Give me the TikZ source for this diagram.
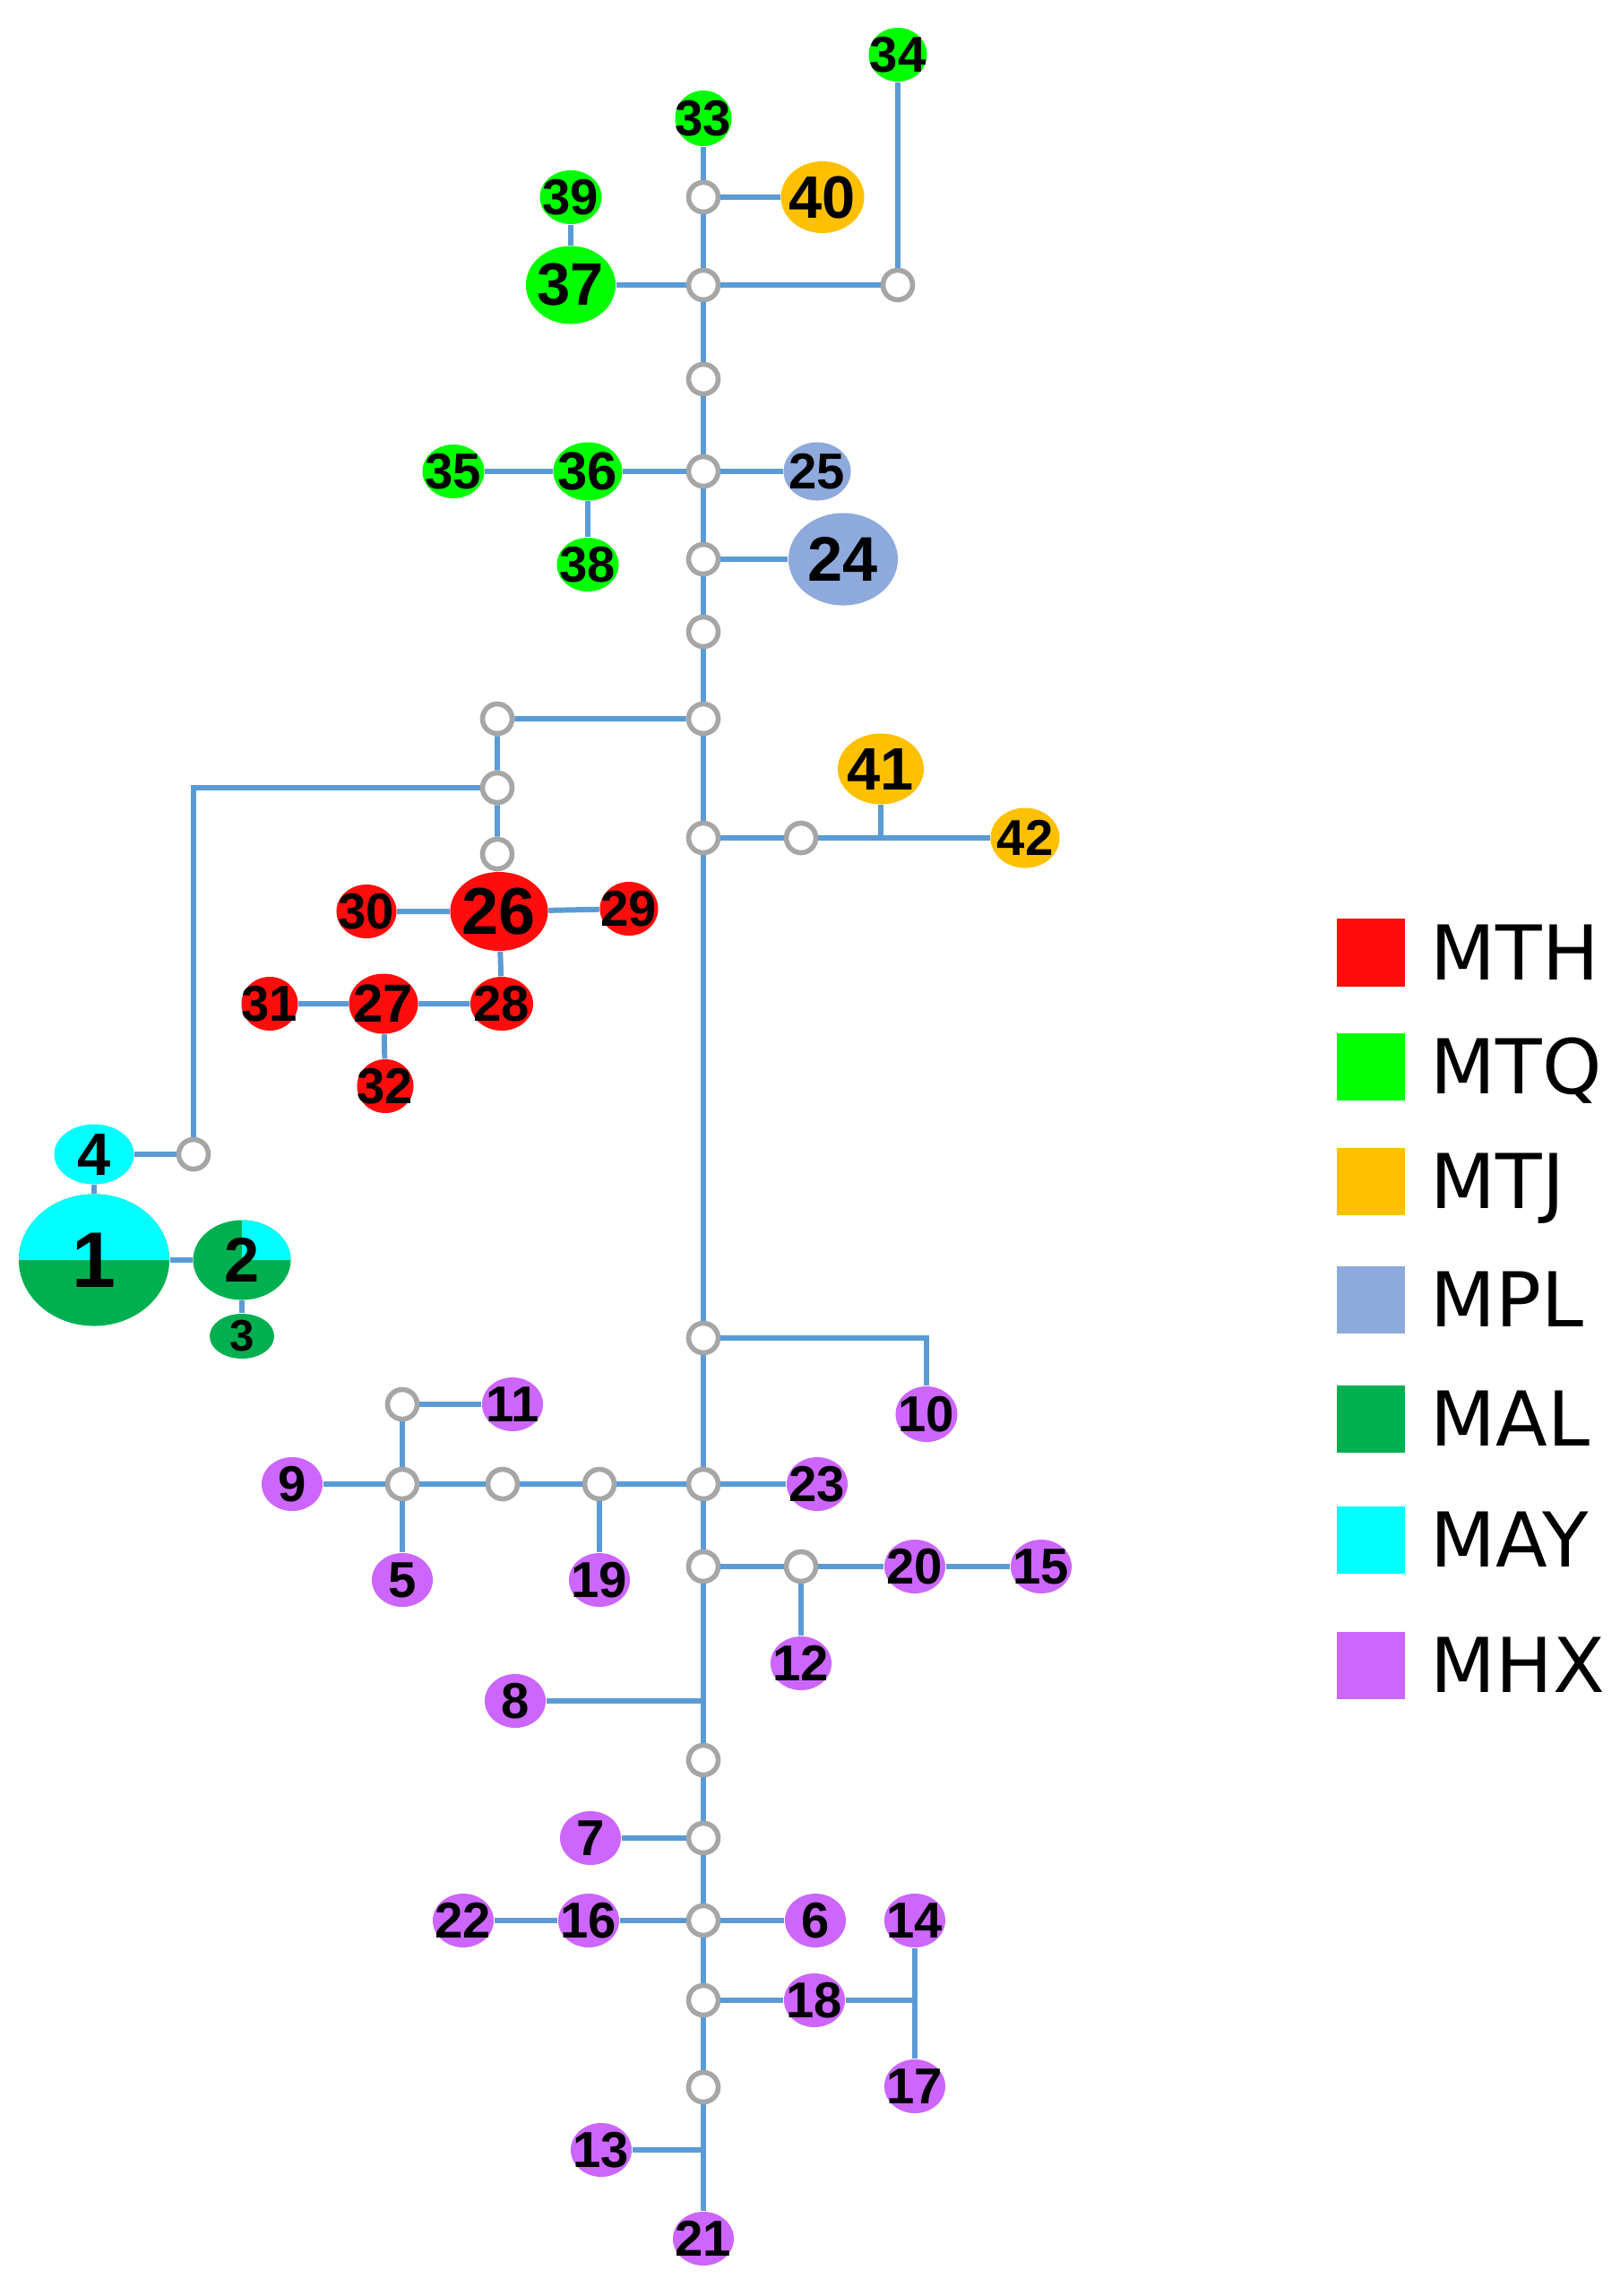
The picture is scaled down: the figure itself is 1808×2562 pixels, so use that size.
\documentclass[tikz,border=0pt]{standalone}
\usepackage{fontspec}
\setmainfont{Liberation Sans}
\newfontfamily\legendfont{DejaVu Sans}
\usetikzlibrary{positioning, shapes.geometric}

\definecolor{cMTH}{HTML}{FF0D0D}
\definecolor{cMTQ}{HTML}{00FF00}
\definecolor{cMTJ}{HTML}{FFC000}
\definecolor{cMPL}{HTML}{8EA9DB}
\definecolor{cMAL}{HTML}{00B050}
\definecolor{cMAY}{HTML}{00FFFF}
\definecolor{cMHX}{HTML}{CC66FF}
\definecolor{cLink}{HTML}{5B9BD5}
\definecolor{cMV}{HTML}{A6A6A6}

\newcommand{\labsize}[1]{\bfseries\fontsize{#1}{#1}\selectfont}

\begin{document}
\begin{tikzpicture}[x=0.01cm, y=-0.01cm,
      sample/.style={ellipse, inner sep=0pt, minimum width=0.68cm, minimum height=0.6cm, font={\labsize{16}},
        execute at begin node={\hbox to 0pt\bgroup\hss}, execute at end node={\hss\egroup}},
      mth/.style={sample, fill=cMTH},
      mtq/.style={sample, fill=cMTQ},
      mtj/.style={sample, fill=cMTJ},
      mpl/.style={sample, fill=cMPL},
      mal/.style={sample, fill=cMAL},
      may/.style={sample, fill=cMAY},
      mhx/.style={sample, fill=cMHX},
      mv/.style={circle, draw=cMV, line width=1.6pt, fill=white, minimum size=0.33cm, inner sep=0pt},
      link/.style={draw=cLink, line width=1.7pt},
      keybox/.style={rectangle, minimum size=0.75cm, inner sep=0pt},
      keytext/.style={font={\legendfont\fontsize{24}{24}\selectfont}, inner sep=0pt, text height=17.5pt, text depth=0pt}]

      \useasboundingbox (0,0) rectangle (1808,2562);

      % Median vectors
      \node[mv] (mv1) at (785,220) {};
      \node[mv] (mv2) at (785,318) {};
      \node[mv] (mv3) at (785,423) {};
      \node[mv] (mv4) at (785,526) {};
      \node[mv] (mv5) at (785,624) {};
      \node[mv] (mv6) at (785,705) {};
      \node[mv] (mv7) at (785,802) {};
      \node[mv] (mv8) at (785,935) {};
      \node[mv] (mv9) at (785,1493) {};
      \node[mv] (mv10) at (785,1656) {};
      \node[mv] (mv11) at (785,1748) {};
      \node[mv] (mv12) at (785,1964) {};
      \node[mv] (mv13) at (785,2051) {};
      \node[mv] (mv14) at (785,2143) {};
      \node[mv] (mv15) at (785,2232) {};
      \node[mv] (mv16) at (785,2329) {};
      \node[mv] (mv17) at (1002,318) {};
      \node[mv] (mv18) at (555,802) {};
      \node[mv] (mv19) at (555,879) {};
      \node[mv] (mv20) at (555,953) {};
      \node[mv] (mv21) at (216,1288) {};
      \node[mv] (mv22) at (894,935) {};
      \node[mv] (mv23) at (449,1567) {};
      \node[mv] (mv24) at (449,1656) {};
      \node[mv] (mv25) at (561,1656) {};
      \node[mv] (mv26) at (669,1656) {};
      \node[mv] (mv27) at (894,1748) {};

      \coordinate (t8) at (785,1898);
      \coordinate (t13) at (785,2399);
      \coordinate (t41) at (983,935);
      \coordinate (t10) at (1034,1493);
      \coordinate (t14) at (1021,2232);
      \coordinate (c4) at (216,879);

      % MTQ
      \node[mtq, minimum width=0.65cm] (n34) at (1002,61) {34};
      \node[mtq, minimum width=0.63cm, minimum height=0.62cm] (n33) at (785,132) {33};
      \node[mtq, minimum width=0.69cm] (n39) at (637,220) {39};
      \node[mtq, minimum width=1cm, minimum height=0.87cm, font={\labsize{19}}] (n37) at (637,318) {37};
      \node[mtq, minimum width=0.69cm] (n35) at (506,526) {35};
      \node[mtq, minimum width=0.77cm, minimum height=0.65cm, font={\labsize{17}}] (n36) at (656,526) {36};
      \node[mtq, minimum width=0.69cm] (n38) at (656,630) {38};

      % MTJ
      \node[mtj, minimum width=0.93cm, minimum height=0.8cm, font={\labsize{19}}] (n40) at (918,220) {40};
      \node[mtj, minimum width=0.96cm, minimum height=0.79cm, font={\labsize{19}}] (n41) at (983,858) {41};
      \node[mtj, minimum width=0.77cm, minimum height=0.67cm] (n42) at (1144,935) {42};

      % MPL
      \node[mpl, minimum width=0.75cm, minimum height=0.65cm] (n25) at (912,526) {25};
      \node[mpl, minimum width=1.22cm, minimum height=1.03cm, font={\labsize{20}}] (n24) at (941,624) {24};

      % MTH
      \node[mth, minimum width=1.09cm, minimum height=0.88cm, font={\labsize{21}}] (n26) at (557,1017) {26};
      \node[mth, minimum width=0.67cm] (n30) at (409,1017) {30};
      \node[mth, minimum width=0.65cm] (n29) at (702,1014) {29};
      \node[mth, minimum width=0.77cm, minimum height=0.67cm, font={\labsize{17}}] (n27) at (428,1120) {27};
      \node[mth, minimum width=0.7cm] (n28) at (560,1120) {28};
      \node[mth, minimum width=0.63cm] (n31) at (301,1120) {31};
      \node[mth, minimum width=0.63cm] (n32) at (430,1212) {32};

      % MAY / MAL
      \node[may, minimum width=0.89cm, minimum height=0.67cm, font={\labsize{19}}] (n4) at (105,1288) {4};
      \node[mal, minimum width=1.68cm, minimum height=1.47cm, font={\labsize{25}},
        path picture={\fill[cMAY] (path picture bounding box.west) rectangle (path picture bounding box.north east);}] (n1) at (105,1406) {1};
      \node[mal, minimum width=1.09cm, minimum height=0.89cm, font={\labsize{20}},
        path picture={\fill[cMAY] (path picture bounding box.center) rectangle (path picture bounding box.north east);}] (n2) at (270,1406) {2};
      \node[mal, minimum width=0.72cm, minimum height=0.5cm, font={\labsize{14}}] (n3) at (270,1491) {3};

      % MHX
      \node[mhx, minimum width=0.69cm, minimum height=0.62cm] (n10) at (1034,1578) {10};
      \node[mhx] (n11) at (572,1567) {11};
      \node[mhx] (n9) at (326,1656) {9};
      \node[mhx] (n23) at (912,1656) {23};
      \node[mhx] (n5) at (449,1763) {5};
      \node[mhx] (n19) at (669,1763) {19};
      \node[mhx] (n20) at (1021,1748) {20};
      \node[mhx] (n15) at (1162,1748) {15};
      \node[mhx] (n12) at (894,1856) {12};
      \node[mhx] (n8) at (575,1898) {8};
      \node[mhx] (n7) at (659,2051) {7};
      \node[mhx] (n22) at (517,2143) {22};
      \node[mhx] (n16) at (657,2143) {16};
      \node[mhx] (n6) at (910,2143) {6};
      \node[mhx] (n14) at (1021,2143) {14};
      \node[mhx] (n18) at (909,2232) {18};
      \node[mhx] (n17) at (1021,2328) {17};
      \node[mhx] (n13) at (671,2399) {13};
      \node[mhx] (n21) at (785,2498) {21};

      % Links
      \draw[link] (n33) -- (mv1) -- (mv2) -- (mv3) -- (mv4) -- (mv5) -- (mv6) -- (mv7) -- (mv8) -- (mv9) -- (mv10) -- (mv11)
        -- (t8) -- (mv12) -- (mv13) -- (mv14) -- (mv15) -- (mv16) -- (t13) -- (n21);
      \draw[link] (mv1) -- (n40);
      \draw[link] (n37) -- (mv2) -- (mv17) -- (n34);
      \draw[link] (n39) -- (n37);
      \draw[link] (n35) -- (n36) -- (mv4) -- (n25);
      \draw[link] (n36) -- (n38);
      \draw[link] (mv5) -- (n24);
      \draw[link] (mv7) -- (mv18) -- (mv19) -- (mv20) -- (n26);
      \draw[link] (mv19) -- (c4) -- (mv21) -- (n4);
      \draw[link] (n4) -- (n1) -- (n2) -- (n3);
      \draw[link] (n30) -- (n26) -- (n29);
      \draw[link] (n26) -- (n28) -- (n27) -- (n31);
      \draw[link] (n27) -- (n32);
      \draw[link] (mv8) -- (mv22) -- (n42);
      \draw[link] (n41) -- (t41);
      \draw[link] (mv9) -- (t10) -- (n10);
      \draw[link] (n9) -- (mv24) -- (mv25) -- (mv26) -- (mv10) -- (n23);
      \draw[link] (mv24) -- (mv23) -- (n11);
      \draw[link] (mv24) -- (n5);
      \draw[link] (mv26) -- (n19);
      \draw[link] (mv11) -- (mv27) -- (n20) -- (n15);
      \draw[link] (mv27) -- (n12);
      \draw[link] (n8) -- (t8);
      \draw[link] (mv13) -- (n7);
      \draw[link] (n22) -- (n16) -- (mv14) -- (n6);
      \draw[link] (mv15) -- (n18) -- (t14);
      \draw[link] (n14) -- (n17);
      \draw[link] (n13) -- (t13);

      % Legend
      \foreach \c/\t/\y [count=\i] in {cMTH/MTH/1063, cMTQ/MTQ/1190, cMTJ/MTJ/1318, cMPL/MPL/1450,
          cMAL/MAL/1583, cMAY/MAY/1718, cMHX/MHX/1858} {
        \node[keybox, fill=\c] (key\i) at (1530,\y) {};
        \node[keytext, right=0.28cm of key\i] (keyname\i) {\t};
      }
    \end{tikzpicture}
\end{document}
